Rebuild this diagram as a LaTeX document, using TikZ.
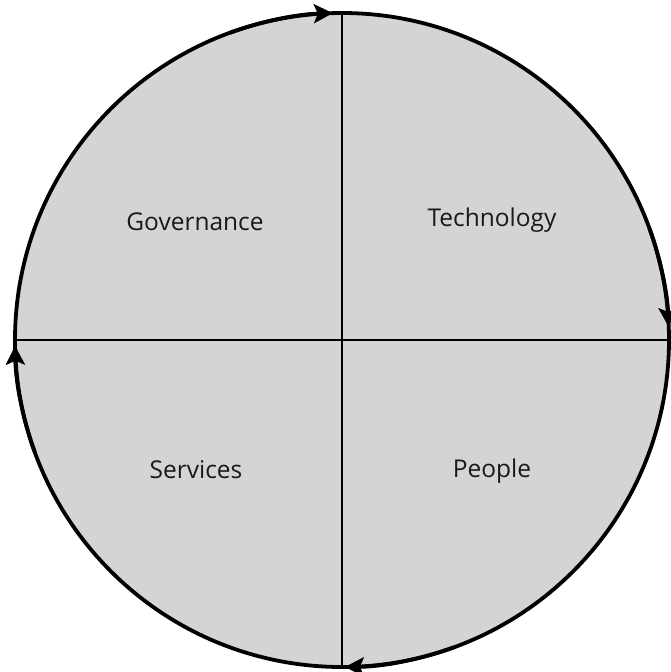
\documentclass[tikz,border=0pt]{standalone}
\usepackage{fontspec}
\setmainfont{Open Sans}
\usetikzlibrary{arrows.meta}
\definecolor{quadfill}{RGB}{211,212,214}
\begin{document}
\begin{tikzpicture}[x=1pt,y=1pt,
  rim/.style={line width=3.8pt,black},
  divider/.style={line width=2pt,black},
  flow/.style={line width=3.8pt,-{Stealth[length=19pt,width=19pt,inset=4pt]}},
  label/.style={font=\fontsize{24.5}{28}\selectfont,text=black!90}]
  \useasboundingbox (0,0) rectangle (670,-672);
  \coordinate (c) at (342,-340);
  \def\r{327}
  % filled disc
  \fill[quadfill] (c) circle[radius=\r];
  % quadrant dividers
  \draw[divider] (c) ++(90:\r) -- ++(0,-654);
  \draw[divider] (c) ++(180:\r) -- ++(654,0);
  % outer ring
  \draw[rim] (c) circle[radius=\r];
  % clockwise flow arrows
  \draw[flow] (c) ++(110:\r) arc[start angle=110, end angle=91.6, radius=\r];
  \draw[flow] (c) ++(20:\r) arc[start angle=20, end angle=2.3, radius=\r];
  \draw[flow] (c) ++(-70:\r) arc[start angle=-70, end angle=-89.5, radius=\r];
  \draw[flow] (c) ++(-160:\r) arc[start angle=-160, end angle=-179.0, radius=\r];
  % quadrant labels
  \node[label] (gov) at (195,-222) {Governance};
  \node[label] (tech) at (492,-220) {Technology};
  \node[label] (serv) at (196,-470) {Services};
  \node[label] (people) at (492,-471) {People};
\end{tikzpicture}
\end{document}
